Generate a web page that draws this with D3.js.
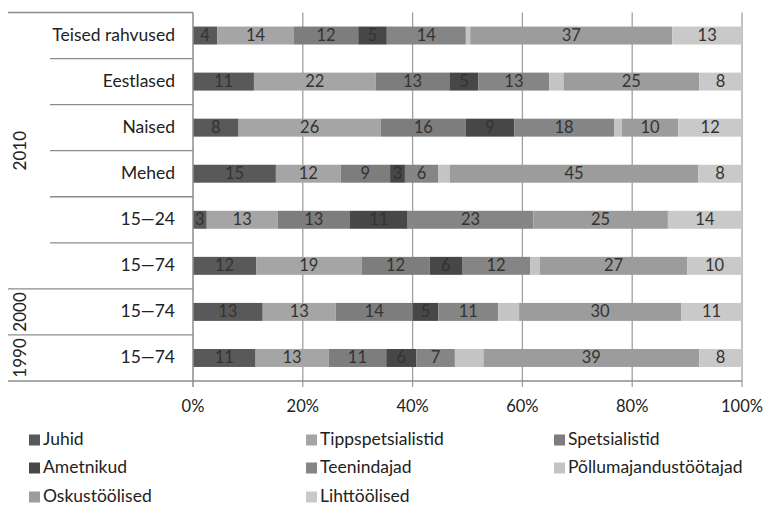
<!DOCTYPE html>
<html><head><meta charset="utf-8">
<script src="https://cdn.jsdelivr.net/npm/d3@7/dist/d3.min.js"></script>
<style>body{margin:0;background:#fff;} text{font-family:Lato,"Open Sans",sans-serif;}</style>
</head><body><svg id="c" width="763" height="507"></svg>
<script>
const categories = ["Teised rahvused","Eestlased","Naised","Mehed","15—24","15—74","15—74 ","15—74  "];
const categoryLabels = ["Teised rahvused","Eestlased","Naised","Mehed","15—24","15—74","15—74","15—74"];
const groups = [{name:"2010", from:0, to:5},{name:"2000", from:6, to:6},{name:"1990", from:7, to:7}];
const seriesNames = ["Juhid","Tippspetsialistid","Spetsialistid","Ametnikud","Teenindajad","Põllumajandustöötajad","Oskustöölised","Lihttöölised"];
const juhid      = [4.4, 11.1, 8.3, 15.1, 2.5, 11.5, 12.7, 11.4];
const tipp       = [14.0, 22.2, 25.9, 11.8, 12.9, 19.2, 13.3, 13.3];
const spets      = [11.7, 13.4, 15.5, 9.0, 13.2, 12.4, 14.0, 10.5];
const ametnikud  = [5.2, 5.3, 8.8, 2.7, 10.5, 5.9, 4.7, 5.5];
const teenind    = [14.4, 12.9, 18.2, 6.1, 22.9, 12.4, 10.9, 7.0];
const pollum     = [0.8, 2.6, 1.4, 2.1, 0.0, 1.8, 3.8, 5.2];
const oskus      = [36.8, 24.7, 10.3, 45.2, 24.5, 26.8, 29.5, 39.3];
const liht       = [12.7, 7.8, 11.6, 8.0, 13.5, 10.0, 11.1, 7.8];
const xTicks = [0, 20, 40, 60, 80, 100];
const colors = ["#595959","#a5a5a5","#7d7d7d","#474747","#858585","#c4c4c4","#9c9c9c","#c9c9c9"];
const showLabel = [true,true,true,true,true,false,true,true];

const seriesValues = [juhid, tipp, spets, ametnikud, teenind, pollum, oskus, liht];
const rows = categories.map((c,i)=>{const o={cat:c}; seriesNames.forEach((s,j)=>o[s]=seriesValues[j][i]); return o;});
const stack = d3.stack().keys(seriesNames)(rows);

const svg = d3.select("#c");
const L=193, R=742, T=12.5, B=381;
const x = d3.scaleLinear().domain([0,100]).range([L,R]);
const y = d3.scaleBand().domain(categories).range([T,B]).paddingInner(0.61).paddingOuter(0.305);
const rowH = (B-T)/categories.length;

// gridlines
svg.append("g").selectAll("line").data(xTicks.slice(1)).join("line")
  .attr("x1",d=>x(d)).attr("x2",d=>x(d)).attr("y1",T).attr("y2",B+6)
  .attr("stroke","#a0a0a0").attr("stroke-width",1.3);

// bars
const sg = svg.append("g").selectAll("g").data(stack).join("g").attr("fill",(d,i)=>colors[i]);
sg.selectAll("rect").data(d=>d.map(v=>({v,cat:v.data.cat}))).join("rect")
  .attr("x",d=>x(d.v[0])).attr("width",d=>x(d.v[1])-x(d.v[0]))
  .attr("y",d=>y(d.cat)).attr("height",y.bandwidth());

// labels
stack.forEach((s,i)=>{
  if(!showLabel[i]) return;
  svg.append("g").selectAll("text").data(s.filter(v=>v[1]-v[0]>0)).join("text")
    .attr("x",v=>(x(v[0])+x(v[1]))/2).attr("y",v=>y(v.data.cat)+y.bandwidth()/2+1)
    .attr("text-anchor","middle").attr("dominant-baseline","middle")
    .attr("font-size",16.5).attr("fill","#333")
    .text(v=>Math.round(v[1]-v[0]));
});

// axes lines
svg.append("line").attr("x1",L).attr("x2",L).attr("y1",T).attr("y2",B+6).attr("stroke","#8c8c8c").attr("stroke-width",1.5);
svg.append("line").attr("x1",8).attr("x2",R).attr("y1",B).attr("y2",B).attr("stroke","#8c8c8c").attr("stroke-width",1.5);

// x tick labels
svg.append("g").selectAll("text").data(xTicks).join("text")
  .attr("x",d=>x(d)).attr("y",412).attr("text-anchor","middle")
  .attr("font-size",16.5).attr("fill","#222").text(d=>d+"%");

// category separators
const groupStarts = new Set(groups.map(g=>g.from));
for(let i=0;i<categories.length;i++){
  const yy = T + i*rowH;
  svg.append("line").attr("x1",groupStarts.has(i)?8:50).attr("x2",L).attr("y1",yy).attr("y2",yy)
    .attr("stroke","#8c8c8c").attr("stroke-width",1.3);
}
// category labels
svg.append("g").selectAll("text").data(categories).join("text")
  .attr("x",175).attr("y",d=>y(d)+y.bandwidth()/2+1).attr("text-anchor","end")
  .attr("dominant-baseline","middle").attr("font-size",17.5).attr("fill","#222")
  .text((d,i)=>categoryLabels[i]);
// group labels
svg.append("g").selectAll("text").data(groups).join("text")
  .attr("transform",g=>`translate(22,${T+(g.from+g.to+1)/2*rowH}) rotate(-90)`)
  .attr("text-anchor","middle").attr("dominant-baseline","middle")
  .attr("font-size",17).attr("fill","#222").text(g=>g.name);

// legend
const lg = svg.append("g").selectAll("g").data(seriesNames).join("g")
  .attr("transform",(d,i)=>`translate(${[29,306,554][i%3]},${[440,468,497][Math.floor(i/3)]})`);
lg.append("rect").attr("x",0).attr("y",-5.5).attr("width",11).attr("height",11).attr("fill",(d,i)=>colors[i]);
lg.append("text").attr("x",14).attr("y",1).attr("dominant-baseline","middle")
  .attr("font-size",17.5).attr("fill","#222").text(d=>d);
</script></body></html>
